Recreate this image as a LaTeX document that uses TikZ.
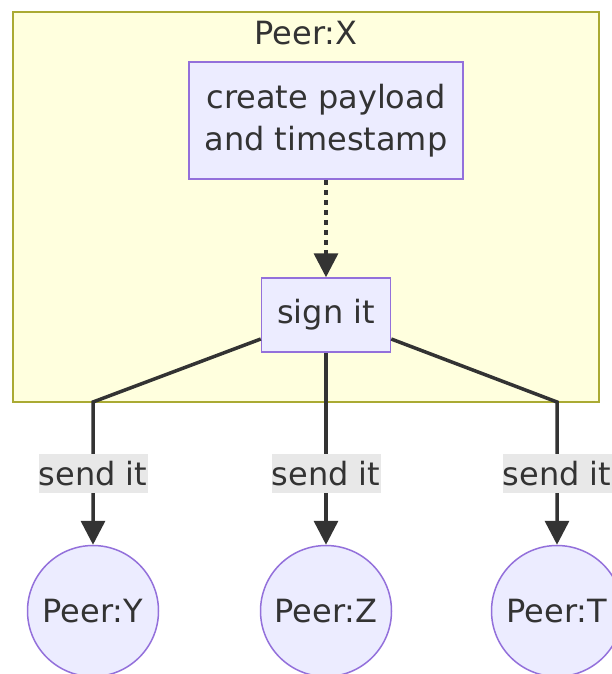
\documentclass[tikz,border=0pt]{standalone}
\usepackage{fontspec}
\setmainfont{DejaVu Sans}
\usetikzlibrary{arrows.meta}
\definecolor{nodefill}{HTML}{ECECFF}
\definecolor{nodeline}{HTML}{9370DB}
\definecolor{clusterfill}{HTML}{FFFFDE}
\definecolor{clusterline}{HTML}{AAAA33}
\definecolor{ink}{HTML}{333333}
\definecolor{labelbg}{HTML}{E8E8E8}
\begin{document}
\begin{tikzpicture}[x=1pt,y=-1pt,
  every node/.style={text=ink,font=\fontsize{32}{42}\selectfont},
  cluster/.style={draw=clusterline,fill=clusterfill,line width=1.5pt,minimum width=586pt,minimum height=390pt},
  proc/.style={draw=nodeline,fill=nodefill,line width=1.5pt,inner sep=0pt,align=center},
  peer/.style={circle,draw=nodeline,fill=nodefill,line width=1.5pt,minimum size=131pt,inner sep=0pt},
  link/.style={draw=ink,line width=3.5pt,-{Triangle[length=24pt,width=24pt]}},
  lbl/.style={fill=labelbg,inner sep=0pt,minimum width=109pt,minimum height=39pt}]
	\fill[white] (0,0) rectangle (612,674);
	\useasboundingbox (0,0) rectangle (612,674);
	\node[cluster] (peerX) at (306,207) {};
	\node (title) at (306,33) {Peer:X};
	\node[proc,minimum width=274pt,minimum height=117pt] (create) at (326,120.5) {create payload\\and timestamp};
	\node[proc,minimum width=129pt,minimum height=74pt] (sign) at (326,315) {sign it};
	\node[peer] (peerY) at (93,611) {Peer:Y};
	\node[peer] (peerZ) at (326,611) {Peer:Z};
	\node[peer] (peerT) at (557,611) {Peer:T};
	\coordinate (bendY) at (93,402);
	\coordinate (bendT) at (557,402);
	\draw[link,dash pattern=on 5pt off 5pt] (create) -- (sign);
	\draw[link] ([yshift=-24pt]sign.west) -- (bendY) -- node[lbl] {send it} (peerY);
	\draw[link] (sign) -- node[lbl,pos=0.63] {send it} (peerZ);
	\draw[link] ([yshift=-24pt]sign.east) -- (bendT) -- node[lbl] {send it} (peerT);
\end{tikzpicture}
\end{document}
